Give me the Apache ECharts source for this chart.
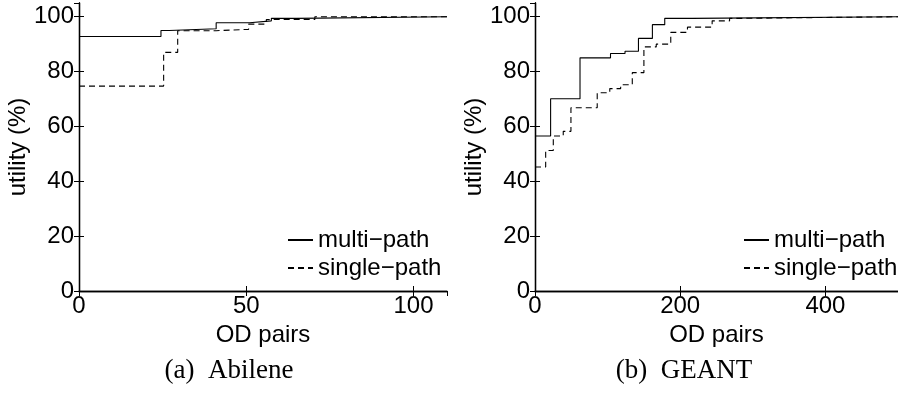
<!DOCTYPE html>
<html>
<head>
<meta charset="utf-8">
<script src="https://cdn.jsdelivr.net/npm/echarts@6/dist/echarts.min.js"></script>
<style>
  html, body { margin: 0; padding: 0; background: #fff; }
  #chart { width: 898px; height: 393px; }
</style>
</head>
<body>
<div id="chart"></div>
<script>
  // step curves: [OD pair index where level starts, utility %]
  var abileneMulti = [[0, 92.8], [24.5, 95], [27, 95.6], [41, 97.8], [51, 98.5], [57.5, 99.4], [65, 100], [110, 100]]
  var abileneSingle = [[0, 74.7], [25.3, 87], [29.5, 94.9], [41, 95.4], [50.7, 97.3], [56, 99], [70.5, 100], [110, 100]]
  var geantMulti = [[0, 56.5], [21.5, 70.1], [62, 85], [104, 86.6], [124, 87.4], [142.5, 92.1], [161.7, 97.1], [178.7, 99.4], [216.7, 100], [500, 100]]
  var geantSingle = [[0, 45.2], [14.7, 51.2], [25.2, 56.5], [38.9, 58.2], [49.5, 66.8], [85.7, 72.3], [103, 73.8], [118, 75.2],
    [134, 79.6], [150, 89], [167, 90], [187, 94.3], [210, 96.2], [244, 98.5], [268, 99.4], [282, 100], [500, 100]]

  var seriesNames = ['multi\u2212path', 'single\u2212path']
  var captions = ['(a)  Abilene', '(b)  GEANT']
  var xMax = [110, 500]
  var xInterval = [50, 200]

  var font = 'Liberation Sans, Arial, Helvetica, sans-serif'
  var black = '#000'

  var grids = [
    { left: 79, top: 3, width: 368, height: 288 },
    { left: 535, top: 3, width: 363, height: 288 }
  ]

  var xAxes = []
  var yAxes = []
  grids.forEach(function (g, i) {
    var base = {
      type: 'value',
      gridIndex: i,
      min: 0,
      max: xMax[i],
      interval: xInterval[i],
      splitLine: { show: false },
      axisLine: { lineStyle: { color: black, width: 1.3 } },
      axisTick: { inside: true, length: 5, lineStyle: { color: black } }
    }
    xAxes.push(Object.assign({}, base, {
      position: 'bottom',
      name: 'OD pairs',
      nameLocation: 'middle',
      nameGap: 23,
      nameTextStyle: { fontFamily: font, fontSize: 24, color: black },
      axisLabel: { margin: 3, fontFamily: font, fontSize: 24, color: black, showMaxLabel: false }
    }))
    xAxes.push(Object.assign({}, base, {
      position: 'top',
      axisLabel: { show: false }
    }))
    var ybase = {
      type: 'value',
      gridIndex: i,
      min: 0,
      max: 105,
      interval: 20,
      splitLine: { show: false },
      axisLine: { show: true, lineStyle: { color: black, width: 1.3 } },
      axisTick: { show: true, inside: true, length: 5, lineStyle: { color: black } }
    }
    yAxes.push(Object.assign({}, ybase, {
      position: 'left',
      name: 'utility (%)',
      nameLocation: 'middle',
      nameGap: 46,
      nameTextStyle: { fontFamily: font, fontSize: 24, color: black },
      axisLabel: { margin: 5, fontFamily: font, fontSize: 24, color: black, showMaxLabel: false }
    }))
    yAxes.push(Object.assign({}, ybase, {
      position: 'right',
      axisLabel: { show: false }
    }))
  })

  function stepLine(name, data, axisIdx, dashed) {
    return {
      name: name,
      type: 'line',
      step: 'end',
      xAxisIndex: axisIdx,
      yAxisIndex: axisIdx,
      symbol: 'none',
      data: data,
      lineStyle: { color: black, width: 1.1, type: dashed ? [6, 4] : 'solid' },
      itemStyle: { color: black }
    }
  }

  var chart = echarts.init(document.getElementById('chart'))
  chart.setOption({
    animation: false,
    backgroundColor: '#fff',
    title: captions.map(function (t, i) {
      return {
        text: t,
        left: i === 0 ? 229 : 684,
        top: 357,
        textAlign: 'center',
        padding: 0,
        textStyle: { fontFamily: 'Liberation Serif, Times New Roman, serif', fontSize: 27, fontWeight: 'normal', color: black }
      }
    }),
    legend: [287, 743].map(function (x) {
      return {
        data: seriesNames,
        orient: 'vertical',
        left: x,
        top: 228,
        padding: 0,
        itemWidth: 25,
        itemHeight: 14,
        itemGap: 4,
        itemStyle: { opacity: 0 },
        textStyle: { fontFamily: font, fontSize: 24, color: black }
      }
    }),
    grid: grids,
    xAxis: xAxes,
    yAxis: yAxes,
    series: [
      stepLine(seriesNames[0], abileneMulti, 0, false),
      stepLine(seriesNames[1], abileneSingle, 0, true),
      stepLine(seriesNames[0], geantMulti, 2, false),
      stepLine(seriesNames[1], geantSingle, 2, true)
    ]
  })
</script>
</body>
</html>
